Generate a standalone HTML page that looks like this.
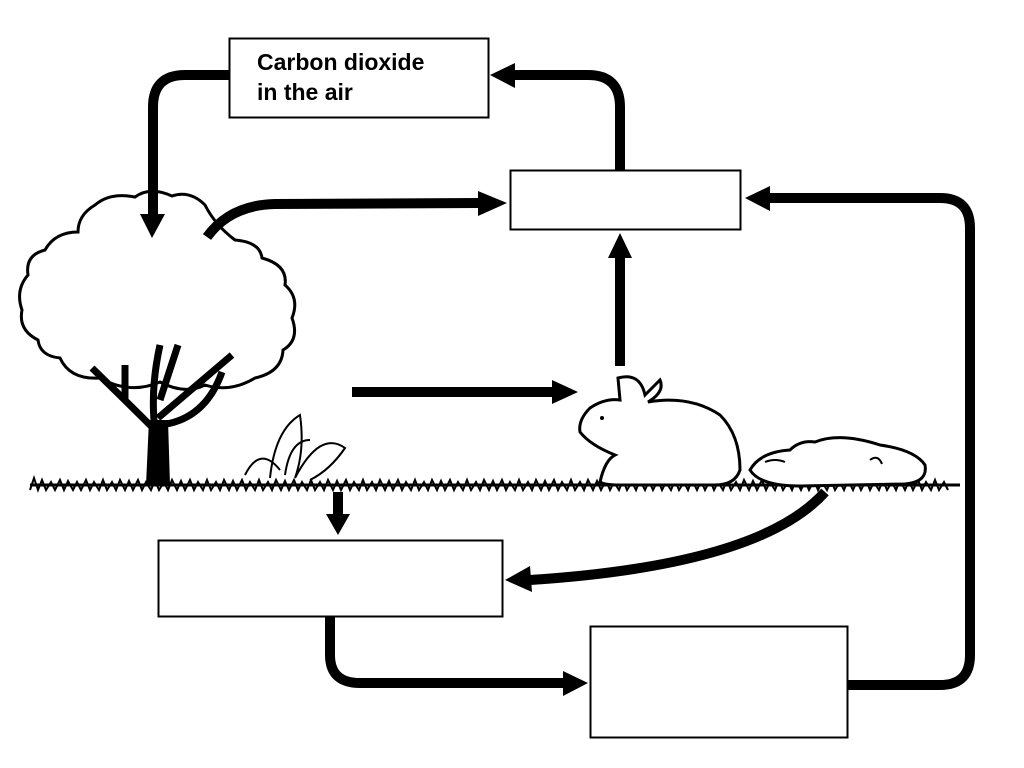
<!DOCTYPE html>
<html><head><meta charset="utf-8"><style>
html,body{margin:0;padding:0;background:#fff;}
svg{display:block}
</style></head><body>
<svg width="1024" height="768" viewBox="0 0 1024 768" xmlns="http://www.w3.org/2000/svg">
<rect width="1024" height="768" fill="#fff"/>
<!-- tree canopy -->
<path d="M95,205 Q110,192 135,197 Q150,186 172,196 Q190,190 205,205 Q215,225 235,240 Q260,242 262,258 Q288,265 285,285 Q300,298 292,318 Q300,340 283,350 Q282,372 255,378 Q230,393 205,385 Q185,395 160,382 Q130,395 100,378 Q70,380 60,358 Q40,356 38,340 Q18,330 22,310 Q15,290 28,275 Q25,255 45,250 Q55,232 78,232 Q78,215 95,205 Z" fill="#fff" stroke="#000" stroke-width="3"/>
<path d="M155,482 L155,430 Q130,405 92,368 M155,430 Q150,390 160,345 M158,418 Q185,395 232,355 M160,425 Q205,420 222,372 M125,400 L125,365 M160,400 L178,345" fill="none" stroke="#000" stroke-width="7"/>
<path d="M146,485 L149,420 L168,420 L170,485 Z" fill="#000"/>
<!-- boxes -->
<rect x="229.5" y="38.5" width="259" height="79" fill="#fff" stroke="#000" stroke-width="2"/>
<text x="257" y="70" font-family="Liberation Sans, sans-serif" font-weight="bold" font-size="23">Carbon dioxide</text>
<text x="257" y="100" font-family="Liberation Sans, sans-serif" font-weight="bold" font-size="23">in the air</text>
<rect x="510.5" y="170.5" width="230" height="59" fill="#fff" stroke="#000" stroke-width="2"/>
<rect x="158.5" y="540.5" width="344" height="76" fill="#fff" stroke="#000" stroke-width="2"/>
<rect x="590.5" y="626.5" width="257" height="111" fill="#fff" stroke="#000" stroke-width="2"/>
<g fill="none" stroke="#000" stroke-width="10">
<path d="M229,75 L185,75 Q153,75 153,107 L153,216"/>
<path d="M620,170 L620,107 Q620,75 588,75 L512,75"/>
<path d="M207,237 Q230,205 275,204 L480,203"/>
<path d="M352,392 L554,392"/>
<path d="M620,366 L620,256"/>
<path d="M847,685 L940,685 Q970,685 970,655 L970,228 Q970,198 940,198 L768,198"/>
<path d="M338,492 L338,516"/>
<path d="M825,492 Q760,565 530,580"/>
<path d="M330,616 L330,655 Q330,683 360,683 L565,683"/>
</g>
<g fill="#000">
<polygon points="152,238 140,214 165,214"/>
<polygon points="490,75 515,63 515,88"/>
<polygon points="507,203 478,191 478,216"/>
<polygon points="578,392 552,380 552,404"/>
<polygon points="620,233 608,258 632,258"/>
<polygon points="745,198 770,186 770,211"/>
<polygon points="338,535 326,514 350,514"/>
<polygon points="505,580 530,566 532,592"/>
<polygon points="588,683 563,671 563,696"/>
</g>
<!-- grass -->
<path d="M30,485 L960,485" stroke="#000" stroke-width="3"/>
<path d="M30,490 l4,-12 l4,12 l4,-10 l4,10 l5,-8 l4,8 l5,-10 l4,10 l4,-9 l5,9 l4,-8 l4,8 l5,-10 l4,10 l4,-8 l5,8 l4,-10 l4,10 l5,-8 l4,8 l4,-10 l5,10 l4,-9 l4,9 l5,-10 l4,10 l4,-8 l5,8 l4,-10 l4,10 l5,-8 l4,8 l4,-10 l5,10 l4,-9 l4,9 l5,-10 l4,10 l4,-8 l5,8 l4,-10 l4,10 l5,-8 l4,8 l4,-10 l5,10 l4,-9 l4,9 l5,-10 l4,10 l4,-8 l5,8 l4,-10 l4,10 l5,-8 l4,8 l4,-10 l5,10 l4,-9 l4,9 l5,-10 l4,10 l4,-8 l5,8 l4,-10 l4,10 l5,-8 l4,8 l4,-10 l5,10 l4,-9 l4,9 l5,-10 l4,10 l4,-8 l5,8 l4,-10 l4,10 l5,-8 l4,8 l4,-10 l5,10 l4,-9 l4,9 l5,-10 l4,10 l4,-8 l5,8 l4,-10 l4,10 l5,-8 l4,8 l4,-10 l5,10 l4,-9 l4,9 l5,-10 l4,10 l4,-8 l5,8 l4,-10 l4,10 l5,-8 l4,8 l4,-10 l5,10 l4,-9 l4,9 l5,-10 l4,10 l4,-8 l5,8 l4,-10 l4,10 l5,-8 l4,8 l4,-10 l5,10 l4,-9 l4,9 l5,-10 l4,10 l4,-8 l5,8 l4,-10 l4,10 l5,-8 l4,8 l4,-10 l5,10 l4,-9 l4,9 l5,-10 l4,10 l4,-8 l5,8 l4,-10 l4,10 l5,-8 l4,8 l4,-10 l5,10 l4,-9 l4,9 l5,-10 l4,10 l4,-8 l5,8 l4,-10 l4,10 l5,-8 l4,8 l4,-10 l5,10 l4,-9 l4,9 l5,-10 l4,10 l4,-8 l5,8 l4,-10 l4,10 l5,-8 l4,8 l4,-10 l5,10 l4,-9 l4,9 l5,-10 l4,10 l4,-8 l5,8 l4,-10 l4,10 l5,-8 l4,8 l4,-10 l5,10 l4,-9 l4,9 l5,-10 l4,10 l4,-8 l5,8 l4,-10 l4,10 l5,-8 l4,8 l4,-10 l5,10 l4,-9 l4,9 l5,-10 l4,10 l4,-8 l5,8 l4,-10 l4,10 l5,-8 l4,8 l4,-10 l5,10 l4,-9 l4,9 l5,-10 l4,10 l4,-8 l5,8 l4,-10 l4,10 l5,-8 l4,8" fill="none" stroke="#000" stroke-width="2"/>
<!-- plant -->
<path d="M245,475 Q260,445 280,470 M270,478 Q275,430 300,415 Q305,450 295,478 M295,478 Q320,430 345,448 Q330,470 310,480 M285,475 Q290,440 310,440" fill="#fff" stroke="#000" stroke-width="2"/>
<!-- rabbit -->
<path d="M600,482 Q605,460 615,455 Q590,445 580,432 Q578,420 590,408 Q605,398 620,400 L618,378 Q640,372 645,395 L660,380 Q665,392 648,402 Q690,395 720,415 Q740,435 740,470 Q735,485 715,485 L620,485 Q605,485 600,482 Z" fill="#fff" stroke="#000" stroke-width="3"/>
<circle cx="602" cy="418" r="2" fill="#000"/>
<!-- dead rabbit -->
<path d="M750,470 Q760,452 790,450 Q800,440 815,442 Q840,432 880,445 Q915,450 925,465 Q928,482 905,484 L800,486 Q760,486 750,470 Z" fill="#fff" stroke="#000" stroke-width="3"/>
<path d="M870,460 q8,-6 12,4 M765,462 q10,-4 20,0" fill="none" stroke="#000" stroke-width="2"/>
</svg>
</body></html>
